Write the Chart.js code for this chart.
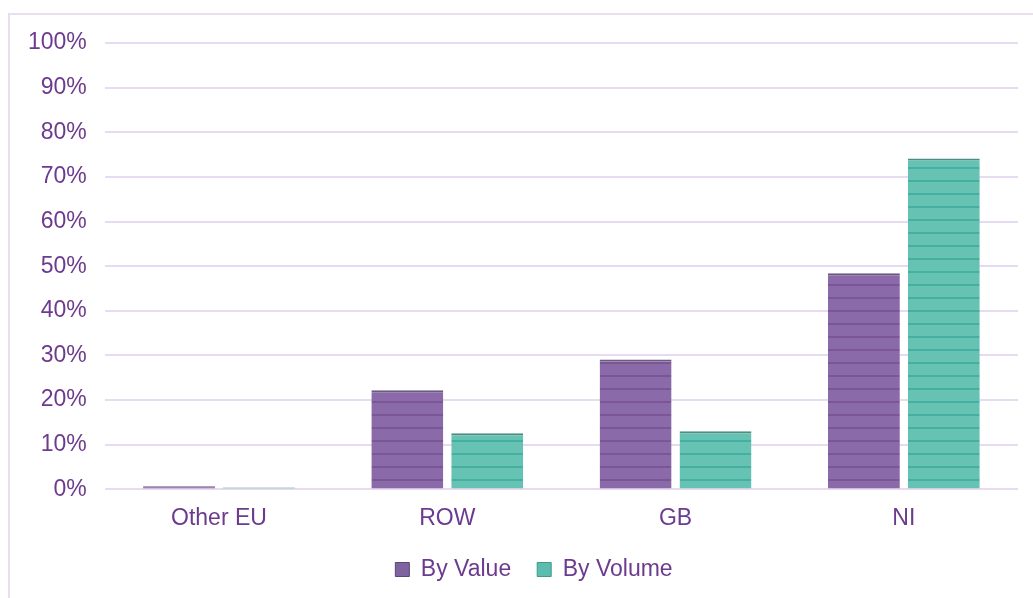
<!DOCTYPE html>
<html>
<head>
<meta charset="utf-8">
<script src="https://cdn.jsdelivr.net/npm/chart.js@4.4.1/dist/chart.umd.min.js"></script>
<style>
  html, body { margin: 0; padding: 0; background: #fff; overflow: hidden; }
  #frame { position: absolute; left: 8px; top: 13px; width: 1060px; height: 620px; border: 2px solid #e9ddf2; box-sizing: border-box; }
  #wrap { position: absolute; left: 0; top: 0; width: 1033px; height: 598px; }
</style>
</head>
<body>
<div id="frame"></div>
<div id="wrap"><canvas id="chart"></canvas></div>
<script>
const categories = ["Other EU", "ROW", "GB", "NI"];
const byValue = [0.7, 22.2, 29.1, 48.4];
const byVolume = [0.45, 12.6, 13.0, 74.1];
const yTicks = [0, 10, 20, 30, 40, 50, 60, 70, 80, 90, 100];

const textColor = "#6c3a8e";
const gridColor = "#e7dbf1";
const font = { family: "Liberation Sans", size: 23 };

// striped fill, like the reference's horizontal hatch
function stripes(fill, line) {
    const c = document.createElement("canvas");
    c.width = 8;
    c.height = 13;
    const g = c.getContext("2d");
    g.fillStyle = fill;
    g.fillRect(0, 0, 8, 13);
    g.fillStyle = line;
    g.fillRect(0, 11, 8, 2);
    return g.createPattern(c, "repeat");
}

// nudge the legend a bit up and right, like the reference
const legendNudge = {
    id: "legendNudge",
    afterLayout(chart) {
        const lg = chart.legend;
        lg.top -= 7;
        lg.bottom -= 7;
        lg.left += 20;
        lg.right += 20;
    },
};

const ctx = document.getElementById("chart").getContext("2d");
const purpleFill = stripes("#8b6aa9", "#7a5696");
const tealFill = stripes("#66c3b3", "#45b09f");

new Chart(ctx, {
    type: "bar",
    data: {
        labels: categories,
        datasets: [
            {
                label: "By Value",
                data: byValue,
                backgroundColor: purpleFill,
                borderColor: "#6a5a7c",
                borderWidth: { top: 2, left: 0, right: 0, bottom: 0 },
                borderSkipped: false,
            },
            {
                label: "By Volume",
                data: byVolume,
                backgroundColor: tealFill,
                borderColor: "#4f8b82",
                borderWidth: { top: 2, left: 0, right: 0, bottom: 0 },
                borderSkipped: false,
            },
        ],
    },
    options: {
        responsive: true,
        maintainAspectRatio: false,
        animation: false,
        layout: { padding: { left: 10, right: 15, top: 43, bottom: 0 } },
        datasets: { bar: { categoryPercentage: 0.7, barPercentage: 0.9 } },
        scales: {
            x: {
                grid: { display: false },
                border: { display: false },
                ticks: { color: textColor, font: font, padding: 7 },
            },
            y: {
                min: 0,
                max: 100,
                afterBuildTicks: (axis) => {
                    axis.ticks = yTicks.map((v) => ({ value: v }));
                },
                grid: { color: gridColor, lineWidth: 2, drawTicks: false },
                border: { display: false },
                ticks: {
                    color: textColor,
                    font: font,
                    padding: 18,
                    callback: (v) => v + "%",
                },
            },
        },
        plugins: {
            tooltip: { enabled: false },
            legend: {
                position: "bottom",
                labels: {
                    color: textColor,
                    font: font,
                    boxWidth: 14,
                    boxHeight: 14,
                    padding: 26,
                    generateLabels: (chart) =>
                        chart.data.datasets.map((ds, i) => ({
                            text: ds.label,
                            fillStyle: i === 0 ? "#7f62a0" : "#5cbcae",
                            strokeStyle: i === 0 ? "#5c4577" : "#3d9a8c",
                            lineWidth: 1,
                            fontColor: textColor,
                            datasetIndex: i,
                        })),
                },
            },
        },
    },
    plugins: [legendNudge],
});
</script>
</body>
</html>
